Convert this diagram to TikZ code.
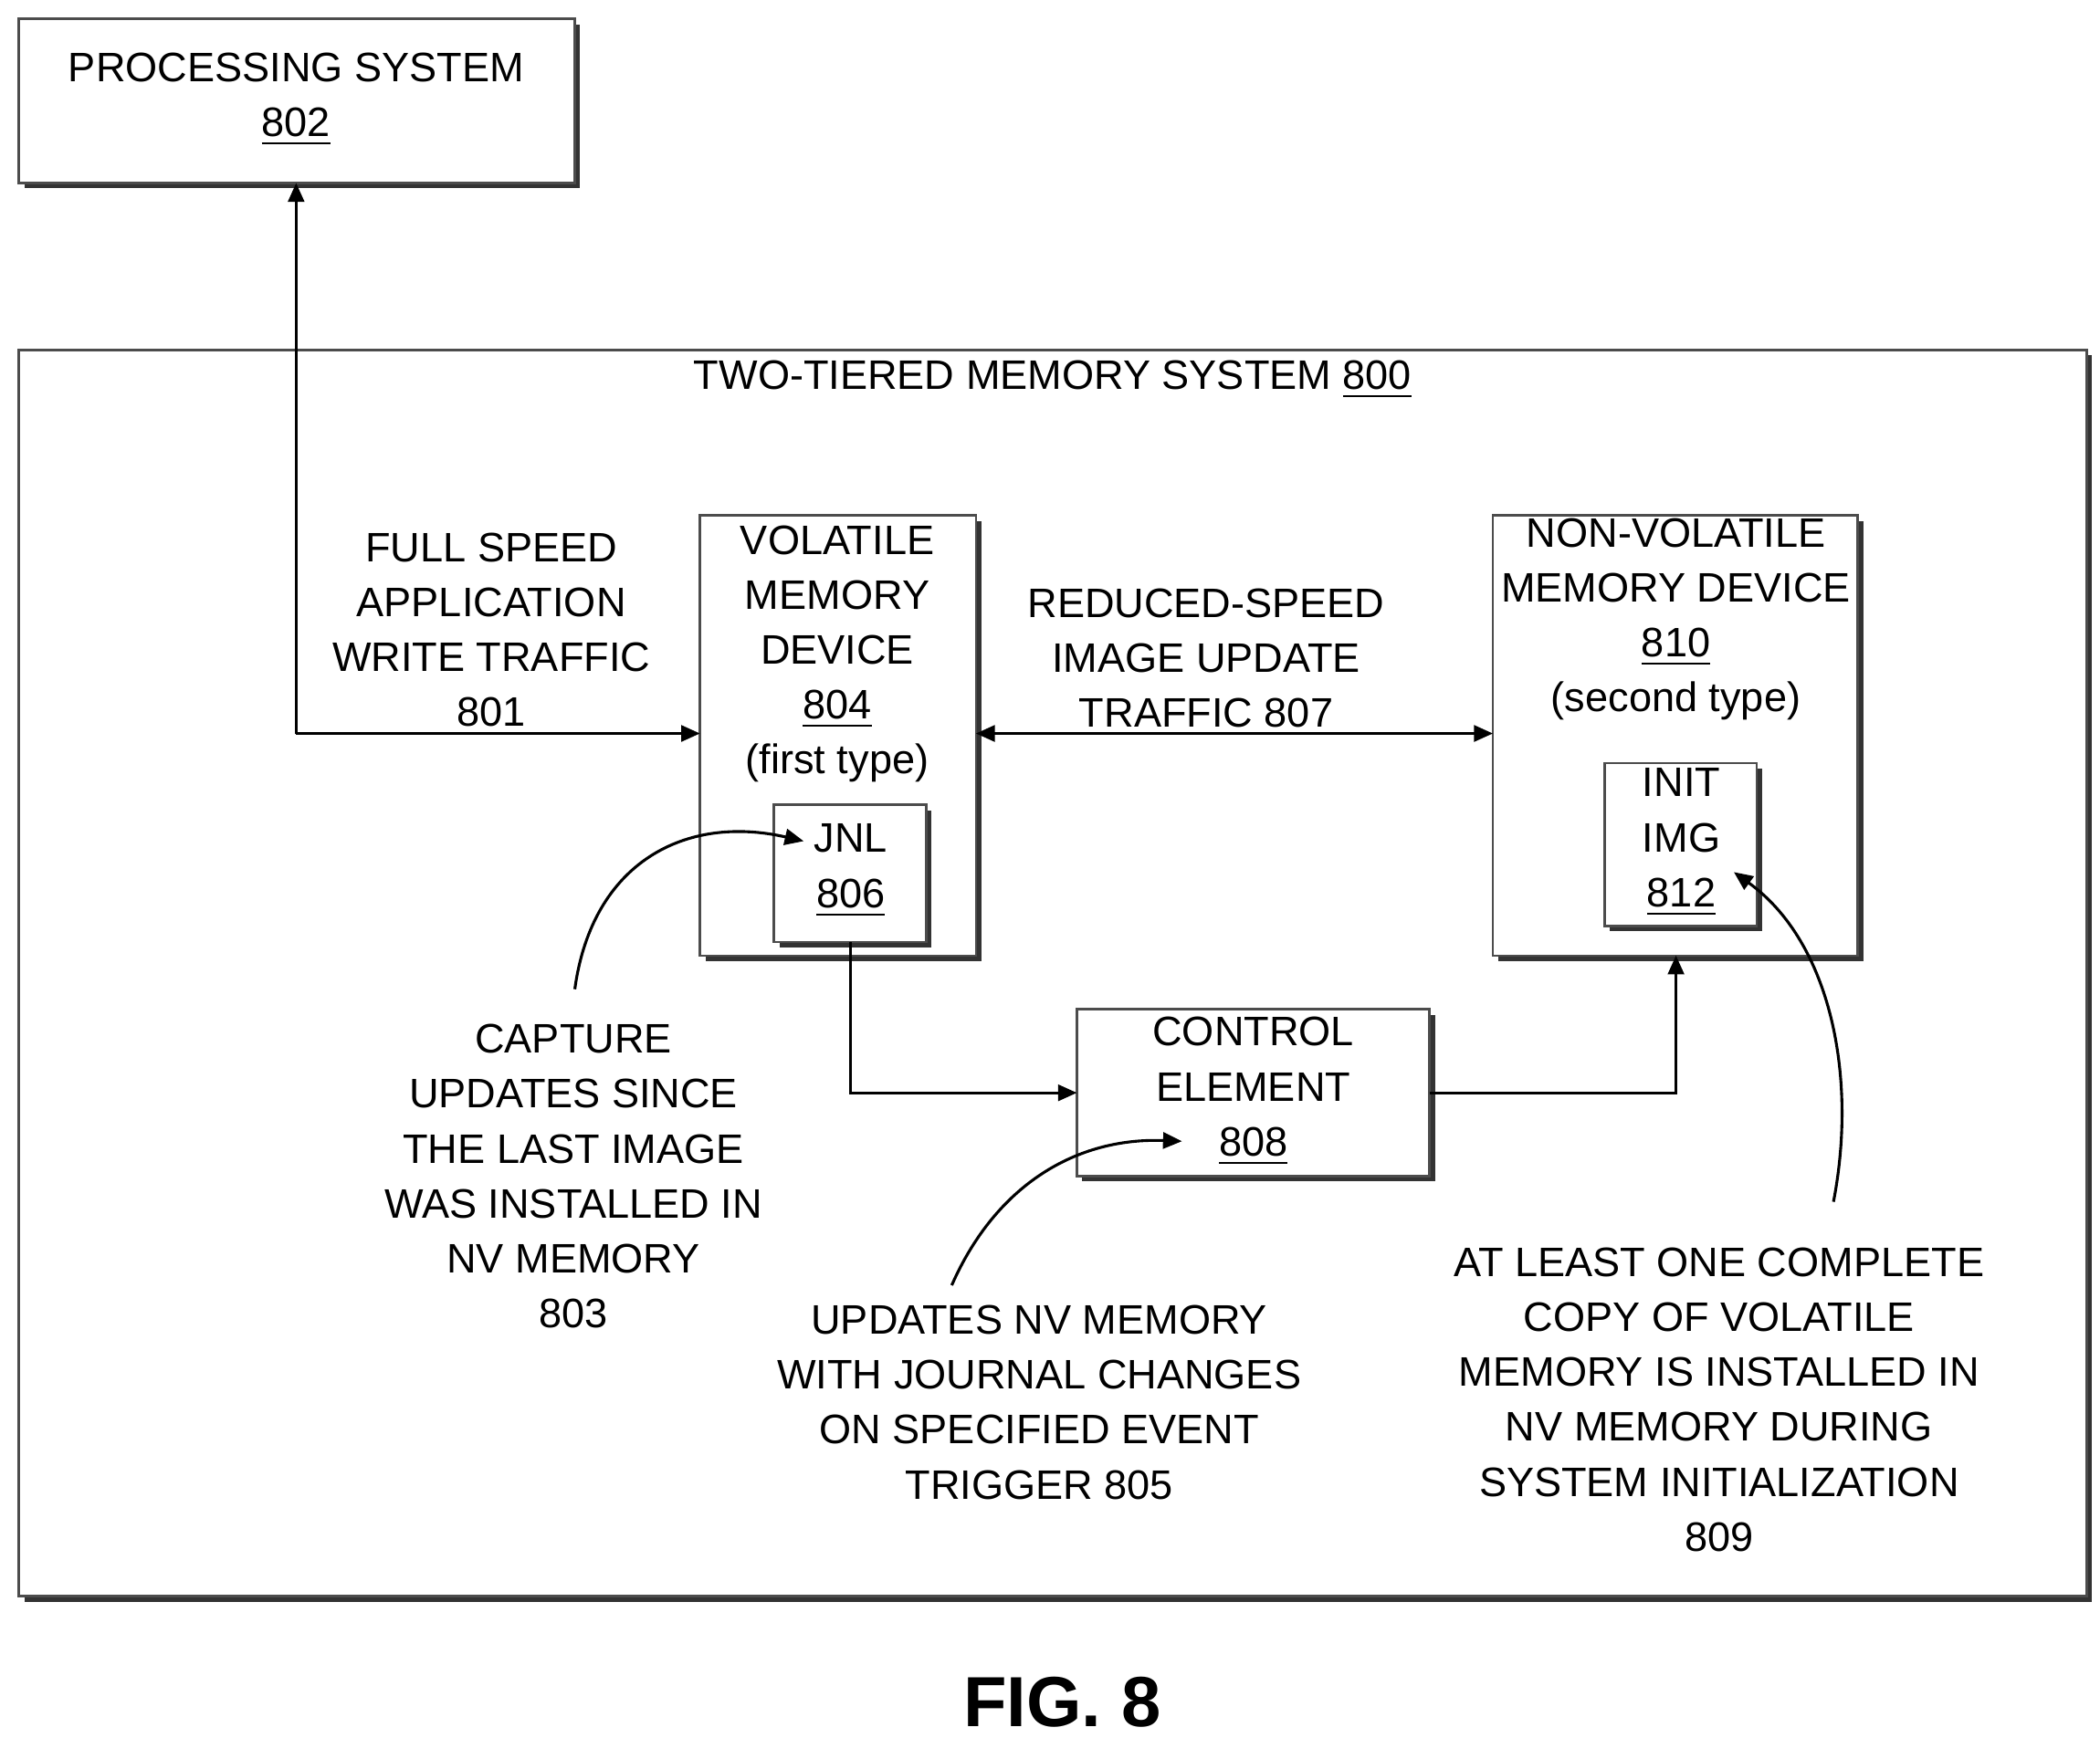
\documentclass[tikz,border=0pt]{standalone}
\usepackage{fontspec}
\setmainfont{Liberation Sans}
\usetikzlibrary{shadows,arrows.meta}
\begin{document}
\begin{tikzpicture}[x=0.01cm,y=-0.01cm,
 box/.style={draw=black!70,line width=0.5pt,fill=white,drop shadow={shadow xshift=0.04cm,shadow yshift=-0.04cm,fill=black!80,opacity=1}},
 txt/.style={align=center,font=\fontsize{8.7}{11.6}\selectfont,inner sep=0pt},
 arr/.style={line width=0.6pt,-{Triangle[length=0.14cm,width=0.12cm]}},
 u/.code={}]
\useasboundingbox (0,0) rectangle (1560,1291);
\draw[box] (14,14) rectangle (427,136);
\node[txt] (ps) at (220,74) {PROCESSING SYSTEM\\\underline{802}};
\coordinate (psb) at (220,136);
\draw[box] (14,260) rectangle (1550,1186);
\node[txt] (t800) at (782,282) {TWO-TIERED MEMORY SYSTEM \underline{800}};
\draw[box] (520,383) rectangle (725,710);
\node[txt] (vm) at (622,486) {VOLATILE\\MEMORY\\DEVICE\\\underline{804}\\(first type)};
\draw[box] (575,598) rectangle (688,700);
\node[txt] (jnl) at (632,647) {JNL\\\underline{806}};
\draw[box] (1109,383) rectangle (1380,710);
\node[txt] (nv) at (1245,460) {NON-VOLATILE\\MEMORY DEVICE\\\underline{810}\\(second type)};
\draw[box] (1192,567) rectangle (1305,688);
\node[txt] (img) at (1249,626) {INIT\\IMG\\\underline{812}};
\draw[box] (800,750) rectangle (1062,874);
\node[txt] (ce) at (931,811) {CONTROL\\ELEMENT\\\underline{808}};
\node[txt] (l801) at (365,468) {FULL SPEED\\APPLICATION\\WRITE TRAFFIC\\801};
\node[txt] (l807) at (896,489) {REDUCED-SPEED\\IMAGE UPDATE\\TRAFFIC 807};
\node[txt] (l803) at (426,874) {CAPTURE\\UPDATES SINCE\\THE LAST IMAGE\\WAS INSTALLED IN\\NV MEMORY\\803};
\node[txt] (l805) at (772,1042) {UPDATES NV MEMORY\\WITH JOURNAL CHANGES\\ON SPECIFIED EVENT\\TRIGGER 805};
\node[txt] (l809) at (1277,1040) {AT LEAST ONE COMPLETE\\COPY OF VOLATILE\\MEMORY IS INSTALLED IN\\NV MEMORY DURING\\SYSTEM INITIALIZATION\\809};
\node[font=\bfseries\fontsize{15}{18}\selectfont] (fig) at (789,1265) {FIG. 8};
\coordinate (c1) at (220,545);
\coordinate (vl) at (520,545);
\coordinate (vr) at (725,545);
\coordinate (nl) at (1109,545);
\draw[arr] (c1) -- (psb);
\draw[arr] (c1) -- (vl);
\draw[arr,{Triangle[length=0.14cm,width=0.12cm]}-{Triangle[length=0.14cm,width=0.12cm]}] (vr) -- (nl);
\coordinate (jb) at (632,700);
\coordinate (cl) at (800,812);
\coordinate (cr) at (1062,812);
\coordinate (nb) at (1245,710);
\draw[arr] (jb) |- (cl);
\draw[arr] (cr) -| (nb);
\coordinate (a1) at (427,735); \coordinate (a1e) at (597,625);
\draw[arr] (a1) .. controls (440,640) and (510,605) .. (a1e);
\coordinate (a2) at (707,955); \coordinate (a2e) at (878,848);
\draw[arr] (a2) .. controls (740,880) and (800,845) .. (a2e);
\coordinate (a3) at (1362,893); \coordinate (a3e) at (1288,648);
\draw[arr] (a3) .. controls (1380,800) and (1360,700) .. (a3e);
\end{tikzpicture}
\end{document}
